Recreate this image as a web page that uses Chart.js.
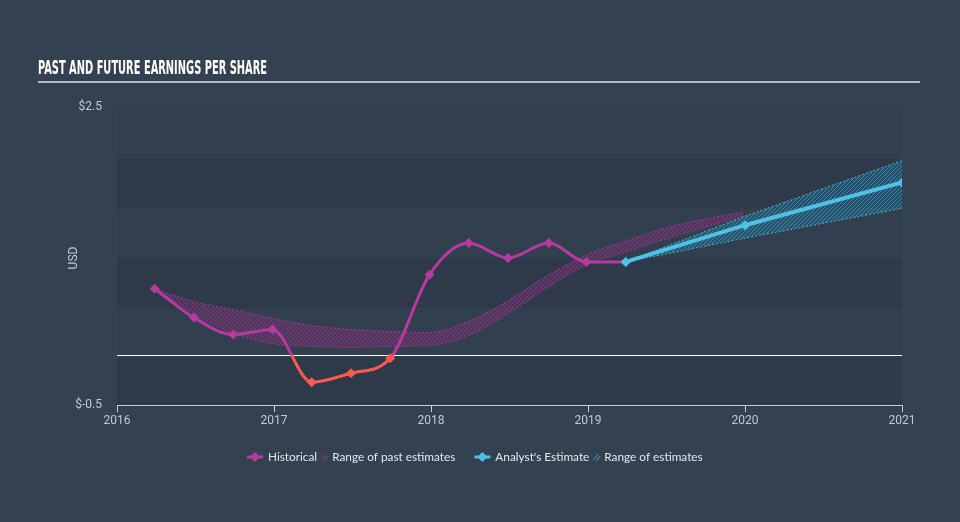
<!DOCTYPE html>
<html>
<head>
<meta charset="utf-8">
<title>Past and future earnings per share</title>
<script src="https://cdn.jsdelivr.net/npm/chart.js@4.4.0/dist/chart.umd.min.js"></script>
<style>
  html, body { margin: 0; padding: 0; background: #344150; }
  #wrap { width: 960px; height: 522px; }
</style>
</head>
<body>
<div id="wrap"><canvas id="eps_chart" width="960" height="522"></canvas></div>
<script>
/* data */
let histDates = [2016.24, 2016.49, 2016.74, 2016.99, 2017.24, 2017.49, 2017.74, 2017.99, 2018.24, 2018.49, 2018.75, 2018.99, 2019.24];
let histEps   = [0.67, 0.38, 0.21, 0.26, -0.27, -0.18, -0.03, 0.81, 1.13, 0.98, 1.13, 0.94, 0.94];

let estDates = [2019.24, 2020.0, 2021.0];
let estEps   = [0.94, 1.31, 1.74];
let estHigh  = [0.94, 1.40, 1.96];
let estLow   = [0.94, 1.18, 1.48];

let pastDates = [2016.24, 2016.49, 2016.74, 2016.99, 2017.24, 2017.49, 2017.74, 2017.99, 2018.24, 2018.49, 2018.75, 2018.99, 2019.24, 2019.49, 2019.74, 2019.99];
let pastHigh  = [0.67, 0.54, 0.46, 0.37, 0.30, 0.26, 0.24, 0.23, 0.34, 0.55, 0.81, 1.01, 1.15, 1.28, 1.37, 1.44];
let pastLow   = [0.67, 0.42, 0.22, 0.12, 0.09, 0.08, 0.09, 0.10, 0.20, 0.42, 0.69, 0.91, 1.04, 1.17, 1.29, 1.40];

let yearTicks = [2016, 2017, 2018, 2019, 2020, 2021];
let usdTicks  = [-0.5, 2.5];
let bandRanges = [[1.5, 2.0], [0.5, 1.0], [-0.5, 0]];

const MAGENTA = '#b63a9f';
const RED = '#ff5a4d';
const CYAN = '#4fc1e6';
const BG = '#344150';
const BAND = '#2e3a49';
const TEXT = '#c3c9d0';

let canvas = document.getElementById('eps_chart');

function pts(xs, ys) {
  return xs.map(function(x, i) { return { x: x, y: ys[i] }; });
}

// 빗금 패턴 (픽셀 단위)
function hatch(rgb) {
  let n = 4;
  let c = document.createElement('canvas');
  c.width = n; c.height = n;
  let g = c.getContext('2d');
  g.fillStyle = 'rgba(' + rgb + ',0.22)';
  g.fillRect(0, 0, n, n);
  g.fillStyle = 'rgba(' + rgb + ',0.85)';
  for (let i = 0; i < n; i++) {
    g.fillRect(i, n - 1 - i, 1, 1);
  }
  return canvas.getContext('2d').createPattern(c, 'repeat');
}

// 0 아래는 빨간색
function histStroke(ctx) {
  let chart = ctx.chart;
  let area = chart.chartArea;
  if (!area) return MAGENTA;
  let y0 = chart.scales.y.getPixelForValue(0);
  let f = Math.min(1, Math.max(0, (y0 - area.top) / (area.bottom - area.top)));
  let g = chart.ctx.createLinearGradient(0, area.top, 0, area.bottom);
  g.addColorStop(0, MAGENTA);
  g.addColorStop(f, MAGENTA);
  g.addColorStop(f, RED);
  g.addColorStop(1, RED);
  return g;
}

let backdrop = {
  id: 'backdrop',
  beforeDraw: function(chart) {
    let ctx = chart.ctx, area = chart.chartArea, y = chart.scales.y;
    ctx.save();
    ctx.fillStyle = BG;
    ctx.fillRect(0, 0, chart.width, chart.height);
    ctx.fillStyle = '#323f4e';
    ctx.fillRect(area.left, area.top, area.right - area.left, area.bottom - area.top);
    ctx.fillStyle = BAND;
    bandRanges.forEach(function(b) {
      let t = y.getPixelForValue(b[1]), btm = y.getPixelForValue(b[0]);
      ctx.fillRect(area.left, t + 2, area.right - area.left, btm - t);
    });

    // title
    let title = 'PAST AND FUTURE EARNINGS PER SHARE';
    ctx.fillStyle = '#ffffff';
    ctx.font = 'bold 19px "DejaVu Sans Condensed", "DejaVu Sans", sans-serif';
    ctx.textBaseline = 'alphabetic';
    ctx.textAlign = 'left';
    let w = ctx.measureText(title).width;
    ctx.translate(38, 74);
    ctx.scale(229 / w, 1);
    ctx.fillText(title, 0, 0);
    ctx.setTransform(1, 0, 0, 1, 0, 0);
    ctx.fillStyle = '#b4bac2';
    ctx.fillRect(38, 81, 882, 2);

    // USD
    ctx.translate(74, 258);
    ctx.rotate(-Math.PI / 2);
    ctx.fillStyle = TEXT;
    ctx.font = '12px Roboto, sans-serif';
    ctx.textAlign = 'center';
    ctx.textBaseline = 'middle';
    ctx.fillText('USD', 0, 0);
    ctx.restore();
  },
  beforeDatasetsDraw: function(chart) {
    let ctx = chart.ctx, area = chart.chartArea;
    let y0 = Math.round(chart.scales.y.getPixelForValue(0)) + 0.5;
    ctx.save();
    ctx.strokeStyle = '#ffffff';
    ctx.lineWidth = 1.2;
    ctx.beginPath();
    ctx.moveTo(area.left, y0);
    ctx.lineTo(area.right, y0);
    ctx.stroke();
    ctx.restore();
  },
  afterDraw: function(chart) {
    let ctx = chart.ctx;
    let items = [
      { type: 'line', color: MAGENTA, text: 'Historical' },
      { type: 'hatch', color: MAGENTA, text: 'Range of past estimates' },
      { type: 'line', color: CYAN, text: "Analyst's Estimate" },
      { type: 'hatch', color: CYAN, text: 'Range of estimates' }
    ];
    let x = 247, cy = 457;
    ctx.save();
    ctx.font = '11.8px Lato, "Open Sans", sans-serif';
    ctx.textBaseline = 'middle';
    ctx.textAlign = 'left';
    items.forEach(function(it, i) {
      if (it.type === 'line') {
        ctx.strokeStyle = it.color;
        ctx.lineWidth = 3;
        ctx.beginPath();
        ctx.moveTo(x, cy); ctx.lineTo(x + 16, cy);
        ctx.stroke();
        ctx.fillStyle = it.color;
        ctx.beginPath();
        ctx.moveTo(x + 8, cy - 5); ctx.lineTo(x + 13, cy);
        ctx.lineTo(x + 8, cy + 5); ctx.lineTo(x + 3, cy);
        ctx.closePath();
        ctx.fill();
        x += 21;
      } else {
        ctx.strokeStyle = it.color;
        ctx.globalAlpha = 0.8;
        ctx.lineWidth = 1;
        ctx.beginPath();
        ctx.moveTo(x, cy + 3); ctx.lineTo(x + 5, cy - 3);
        ctx.moveTo(x + 3, cy + 4); ctx.lineTo(x + 7, cy - 1);
        ctx.stroke();
        ctx.globalAlpha = 1;
        x += 11;
      }
      ctx.fillStyle = '#e4e7ea';
      ctx.fillText(it.text, x, cy);
      x += ctx.measureText(it.text).width + (i === 1 ? 19 : 4);
    });
    ctx.restore();
  }
};

new Chart(canvas, {
  type: 'line',
  data: {
    datasets: [{
      label: "Analyst's Estimate",
      data: pts(estDates, estEps),
      borderColor: CYAN,
      backgroundColor: CYAN,
      borderWidth: 4,
      tension: 0,
      pointStyle: 'rectRot',
      pointRadius: 5,
      pointBorderWidth: 0,
      pointBackgroundColor: CYAN,
      fill: false
    },
    {
      label: 'Historical',
      data: pts(histDates, histEps),
      borderColor: histStroke,
      borderWidth: 3,
      cubicInterpolationMode: 'monotone',
      pointStyle: 'rectRot',
      pointRadius: 5,
      pointBorderWidth: 0,
      pointBackgroundColor: function(ctx) {
        return ctx.raw && ctx.raw.y < 0 ? RED : MAGENTA;
      },
      fill: false
    },
    {
      label: 'Range of estimates',
      data: pts(estDates, estHigh),
      borderColor: 'rgba(79,193,230,0.9)',
      borderWidth: 1,
      borderDash: [2, 2],
      tension: 0,
      pointRadius: 0,
      backgroundColor: hatch('40,150,195'),
      fill: '+1'
    },
    {
      label: 'estLow',
      data: pts(estDates, estLow),
      borderColor: 'rgba(79,193,230,0.9)',
      borderWidth: 1,
      borderDash: [2, 2],
      tension: 0,
      pointRadius: 0,
      fill: false
    },
    {
      label: 'Range of past estimates',
      data: pts(pastDates, pastHigh),
      borderColor: 'rgba(182,58,159,0.85)',
      borderWidth: 1,
      borderDash: [2, 2],
      cubicInterpolationMode: 'monotone',
      pointRadius: 0,
      backgroundColor: hatch('150,45,135'),
      fill: '+1'
    },
    {
      label: 'pastLow',
      data: pts(pastDates, pastLow),
      borderColor: 'rgba(182,58,159,0.85)',
      borderWidth: 1,
      borderDash: [2, 2],
      cubicInterpolationMode: 'monotone',
      pointRadius: 0,
      fill: false
    }]
  },
  options: {
    responsive: false,
    animation: false,
    devicePixelRatio: 1,
    layout: { padding: { left: 0, right: 58, top: 107, bottom: 0 } },
    plugins: {
      legend: { display: false },
      tooltip: { enabled: false }
    },
    scales: {
      x: {
        type: 'linear',
        min: 2016,
        max: 2021,
        afterBuildTicks: function(scale) {
          scale.ticks = yearTicks.map(function(v) { return { value: v }; });
        },
        afterFit: function(scale) { scale.height = 117; },
        ticks: {
          color: TEXT,
          font: { family: 'Roboto', size: 12 },
          padding: 2,
          maxRotation: 0,
          callback: function(value) { return String(value); }
        },
        grid: {
          display: true,
          drawOnChartArea: false,
          drawTicks: true,
          tickLength: 7,
          color: '#c8d0d8'
        },
        border: { display: true, color: '#c8d0d8', width: 1 }
      },
      y: {
        type: 'linear',
        min: -0.5,
        max: 2.5,
        afterBuildTicks: function(scale) {
          scale.ticks = usdTicks.map(function(v) { return { value: v }; });
        },
        afterFit: function(scale) { scale.width = 117; },
        ticks: {
          color: TEXT,
          font: { family: 'Roboto', size: 12 },
          padding: 15,
          callback: function(value) { return '$' + value; }
        },
        grid: { display: false, drawTicks: false },
        border: { display: false }
      }
    }
  },
  plugins: [backdrop]
}); // eps_chart
</script>
</body>
</html>
